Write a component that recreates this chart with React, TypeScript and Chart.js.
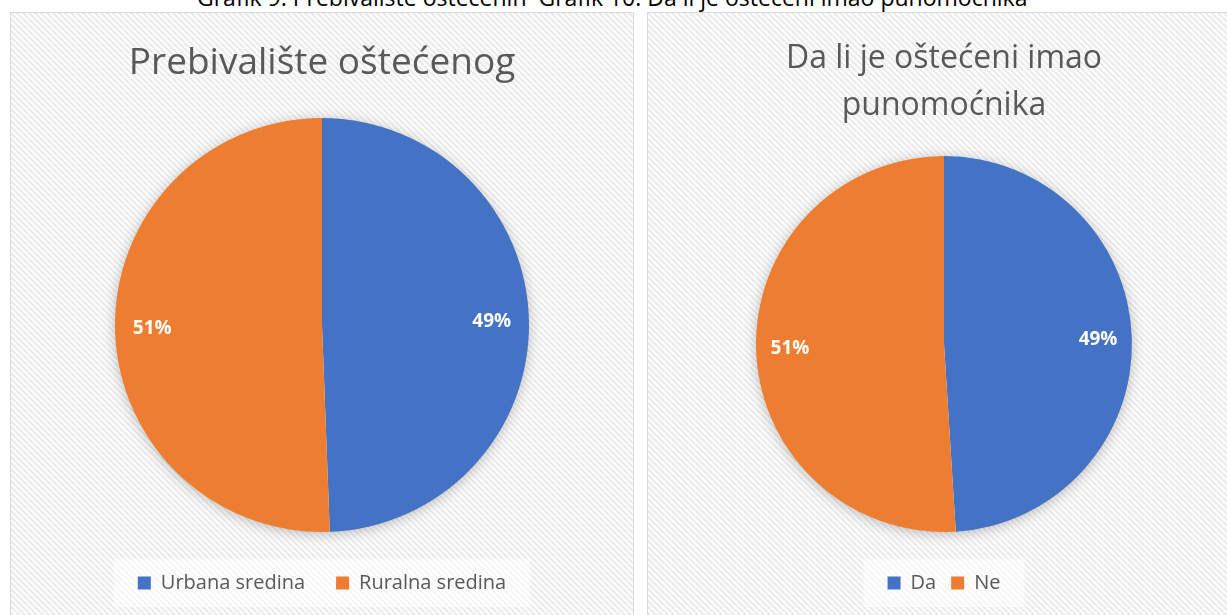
import React, { useEffect, useRef } from "react";
import { Chart, registerables } from "chart.js";

Chart.register(...registerables);

// ---- data ----
const captionText = "Grafik 9: Prebivalište oštećenih  Grafik 10: Da li je oštećeni imao punomoćnika";
const chart1Title = "Prebivalište oštećenog";
const chart1Labels = ["Urbana sredina", "Ruralna sredina"];
const chart1Values = [49.4, 50.6];
const chart2Title = ["Da li je oštećeni imao", "punomoćnika"];
const chart2Labels = ["Da", "Ne"];
const chart2Values = [49, 51];
const sliceColors = ["#4472C4", "#ED7D31"];

const FONT = "'Open Sans', 'Noto Sans', sans-serif";
const TEXT_COLOR = "#595959";

function makePattern(ctx: CanvasRenderingContext2D) {
  const s = 6;
  const c = document.createElement("canvas");
  c.width = s;
  c.height = s;
  const g = c.getContext("2d")!;
  g.fillStyle = "#fcfcfc";
  g.fillRect(0, 0, s, s);
  g.strokeStyle = "#e8e8e8";
  g.lineWidth = 1.6;
  for (const o of [-s, 0, s]) {
    g.beginPath();
    g.moveTo(o, 0);
    g.lineTo(o + s, s);
    g.stroke();
  }
  return ctx.createPattern(c, "repeat");
}

const panelPlugin = {
  id: "panelBackground",
  beforeDraw(chart: any) {
    const ctx = chart.ctx as CanvasRenderingContext2D;
    const w = chart.width;
    const h = chart.height;
    ctx.save();
    const pat = makePattern(ctx);
    if (pat) ctx.fillStyle = pat;
    ctx.fillRect(0, 0, w, h);
    // soft backdrop behind legend
    const lg = chart.legend;
    if (lg && lg.legendHitBoxes && lg.legendHitBoxes.length) {
      let l = Infinity, r = -Infinity, t = Infinity, b = -Infinity;
      for (const hb of lg.legendHitBoxes) {
        l = Math.min(l, hb.left);
        r = Math.max(r, hb.left + hb.width);
        t = Math.min(t, hb.top);
        b = Math.max(b, hb.top + hb.height);
      }
      ctx.fillStyle = "rgba(255,255,255,0.5)";
      ctx.fillRect(l - 24, t - 14, r - l + 48, b - t + 28);
    }
    // border: top, left, right
    ctx.strokeStyle = "#d9d9d9";
    ctx.lineWidth = 1;
    ctx.beginPath();
    ctx.moveTo(0.5, h + 2);
    ctx.lineTo(0.5, 0.5);
    ctx.lineTo(w - 0.5, 0.5);
    ctx.lineTo(w - 0.5, h + 2);
    ctx.stroke();
    ctx.restore();
  },
};

const shadowPlugin = {
  id: "pieShadow",
  beforeDatasetsDraw(chart: any) {
    const meta = chart.getDatasetMeta(0);
    const arc = meta && meta.data && meta.data[0];
    if (!arc) return;
    const { x, y, outerRadius } = arc.getProps(["x", "y", "outerRadius"], true);
    const ctx = chart.ctx as CanvasRenderingContext2D;
    ctx.save();
    ctx.shadowColor = "rgba(0,0,0,0.28)";
    ctx.shadowBlur = 14;
    ctx.shadowOffsetY = 2;
    ctx.fillStyle = "#ffffff";
    ctx.beginPath();
    ctx.arc(x, y, outerRadius - 1, 0, Math.PI * 2);
    ctx.fill();
    ctx.restore();
  },
};

const labelPlugin = {
  id: "pctLabels",
  afterDatasetsDraw(chart: any) {
    const ctx = chart.ctx as CanvasRenderingContext2D;
    const ds = chart.data.datasets[0];
    const meta = chart.getDatasetMeta(0);
    ctx.save();
    ctx.fillStyle = "#ffffff";
    ctx.font = `bold 19px ${FONT}`;
    ctx.textAlign = "center";
    ctx.textBaseline = "middle";
    meta.data.forEach((el: any, i: number) => {
      const p = el.getProps(["x", "y", "startAngle", "endAngle", "outerRadius"], true);
      const mid = (p.startAngle + p.endAngle) / 2;
      const rr = p.outerRadius * 0.82;
      ctx.fillText(`${Math.round(ds.data[i])}%`, p.x + Math.cos(mid) * rr, p.y + Math.sin(mid) * rr);
    });
    ctx.restore();
  },
};

type PieProps = {
  title: string | string[];
  labels: string[];
  values: number[];
  left: number;
  top: number;
  width: number;
  height: number;
  titleSize: number;
  titleLineHeight: number;
  titlePadTop: number;
  titlePadBottom: number;
  legendGap: number;
  spacer: number;
};

function PieChart(props: PieProps) {
  const ref = useRef<HTMLCanvasElement | null>(null);
  useEffect(() => {
    if (!ref.current) return;
    const chart = new Chart(ref.current, {
      type: "pie",
      data: {
        labels: props.labels,
        datasets: [
          {
            data: props.values,
            backgroundColor: sliceColors,
            borderWidth: 0,
            hoverOffset: 0,
          },
        ],
      },
      options: {
        animation: false,
        responsive: false,
        devicePixelRatio: 1,
        events: [],
        layout: { padding: { top: 0, bottom: 12, left: 0, right: 0 } },
        plugins: {
          tooltip: { enabled: false },
          title: {
            display: true,
            text: props.title,
            color: TEXT_COLOR,
            font: { family: FONT, size: props.titleSize, weight: "normal", lineHeight: props.titleLineHeight },
            padding: { top: props.titlePadTop, bottom: props.titlePadBottom },
          },
          subtitle: {
            display: true,
            position: "bottom",
            text: "",
            weight: 500,
            font: { size: 10, lineHeight: 1 },
            padding: { top: 0, bottom: props.spacer - 10 },
          },
          legend: {
            display: true,
            position: "bottom",
            labels: {
              color: TEXT_COLOR,
              font: { family: FONT, size: 20 },
              boxWidth: 13,
              boxHeight: 13,
              padding: props.legendGap,
            },
          },
        },
      } as any,
      plugins: [panelPlugin, shadowPlugin, labelPlugin],
    });
    return () => chart.destroy();
  }, []);
  return (
    <canvas
      ref={ref}
      width={props.width}
      height={props.height}
      style={{
        position: "absolute",
        left: props.left,
        top: props.top,
        width: props.width,
        height: props.height,
        display: "block",
      }}
    />
  );
}

export default function App() {
  return (
    <div
      style={{
        position: "fixed",
        left: 0,
        top: 0,
        width: 1227,
        height: 615,
        overflow: "hidden",
        background: "#ffffff",
      }}
    >
      <div
        style={{
          position: "absolute",
          left: 197,
          top: -15,
          whiteSpace: "pre",
          fontFamily: FONT,
          fontSize: 23,
          lineHeight: "24px",
          color: "#000000",
        }}
      >
        {captionText}
      </div>
      <PieChart
        title={chart1Title}
        labels={chart1Labels}
        values={chart1Values}
        left={10}
        top={12}
        width={624}
        height={603}
        titleSize={37}
        titleLineHeight={1.2}
        titlePadTop={29}
        titlePadBottom={32.6}
        legendGap={31}
        spacer={10}
      />
      <PieChart
        title={chart2Title}
        labels={chart2Labels}
        values={chart2Values}
        left={647}
        top={12}
        width={594}
        height={603}
        titleSize={32}
        titleLineHeight={1.47}
        titlePadTop={23}
        titlePadBottom={27}
        legendGap={15}
        spacer={26}
      />
    </div>
  );
}
